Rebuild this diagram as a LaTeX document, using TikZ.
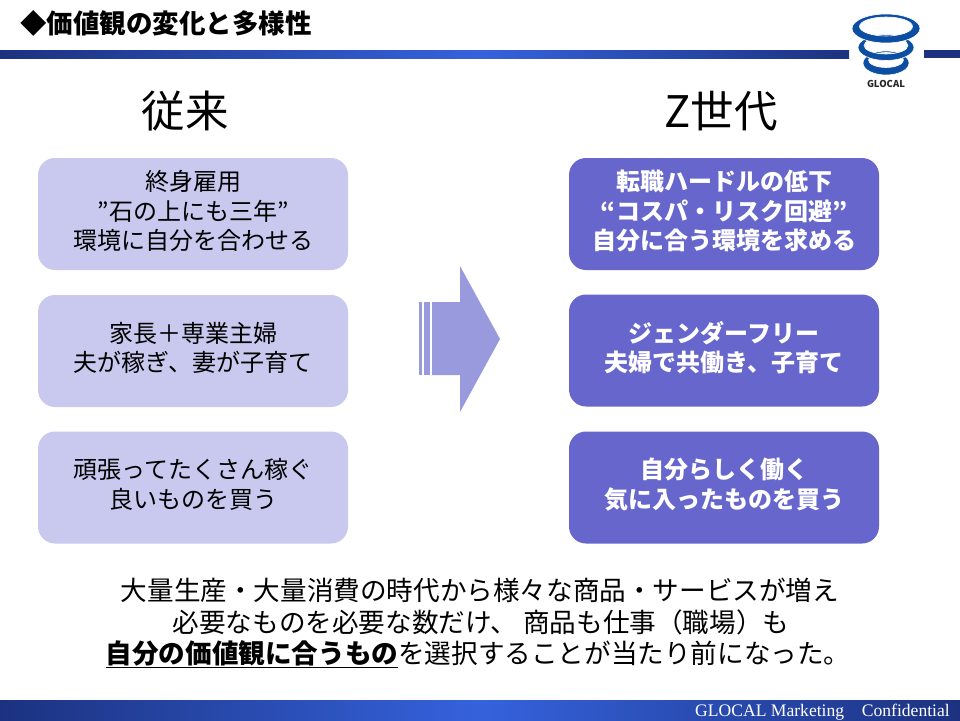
\documentclass[tikz,border=0pt]{standalone}
\usepackage{fontspec}
\setmainfont{Noto Sans CJK JP}
\newfontfamily\footfont{Liberation Serif}
\usetikzlibrary{positioning,calc}
\definecolor{bandDark}{HTML}{1C3280}
\definecolor{bandLight}{HTML}{3562DC}
\definecolor{boxOld}{HTML}{C9C9F0}
\definecolor{boxNew}{HTML}{6666CC}
\definecolor{arrowFill}{HTML}{9999DD}
\definecolor{logoBlue}{HTML}{0B4EA2}
\tikzset{
    oldbox/.style={
        fill=boxOld,
        rounded corners=17pt,
        minimum width=310pt,
        minimum height=112pt,
        inner sep=0pt
    },
    newbox/.style={
        oldbox,
        fill=boxNew
    },
    oldtext/.style={
        inner sep=0pt,
        yshift=3pt,
        align=center,
        font=\fontsize{24}{29.5}\selectfont,
        text=black
    },
    newtext/.style={
        oldtext,
        font=\fontsize{24}{29.5}\bfseries\selectfont,
        text=white
    },
    heading/.style={
        inner sep=0pt,
        font=\fontsize{43.5}{50}\selectfont
    },
    closing/.style={
        inner sep=0pt,
        font=\fontsize{26.6}{31}\selectfont
    },
    logoring/.style={
        fill=logoBlue,
        even odd rule,
        draw=white,
        line width=0.6pt
    }
}

\begin{document}
\begin{tikzpicture}[x=1pt, y=-1pt]
    \useasboundingbox (0,0) rectangle (960,720);
    \fill[white] (0,0) rectangle (960,720);

    % Bands
    \fill[left color=bandDark, right color=bandLight] (0,50) rectangle (480,58);
    \fill[left color=bandLight, right color=bandDark] (480,50) rectangle (849,58);
    \fill[bandDark] (924,50) rectangle (960,58);
    \fill[left color=bandDark, right color=bandLight] (0,700) rectangle (480,720);
    \fill[left color=bandLight, right color=bandDark] (480,700) rectangle (960,720);

    % Title
    \node[anchor=west, inner sep=0pt, font=\fontsize{26.5}{30}\bfseries\selectfont] (title) at (20,23) {◆価値観の変化と多様性};
    \node[anchor=east, inner sep=0pt, text=white, font=\footfont\fontsize{17.6}{20}\selectfont] (foot) at (950,712) {GLOCAL Marketing\hspace{1em}Confidential};

    % Logo
    \path[logoring] (886,63) ellipse (23pt and 12pt) (886,60) ellipse (17.5pt and 7.5pt);
    \path[logoring] (886,47.5) ellipse (28pt and 13pt) (886,45.5) ellipse (22pt and 8.5pt);
    \path[logoring] (886,28.5) ellipse (34pt and 14.5pt) (886,26.5) ellipse (26.5pt and 9.5pt);
    \node[inner sep=0pt, text=black!85, font=\fontsize{9.5}{11}\bfseries\selectfont] (logotext) at (886,83.5) {GLOCAL};

    % Headings
    \node[heading] (oldhead) at (185,111) {従来};
    \node[heading] (newhead) at (721,111) {Z世代};

    % Boxes - left
    \node[oldbox] (old1) at (193,214) {};
    \node[oldbox] (old2) at (193,351) {};
    \node[oldbox] (old3) at (193,487.5) {};
    \node[oldtext] (old1text) at (old1) {終身雇用\\"石の上にも三年”\\環境に自分を合わせる};
    \node[oldtext] (old2text) at (old2) {家長＋専業主婦\\夫が稼ぎ、妻が子育て};
    \node[oldtext] (old3text) at (old3) {頑張ってたくさん稼ぐ\\良いものを買う};

    % Boxes - right
    \node[newbox] (new1) at (724,214) {};
    \node[newbox] (new2) at (724,350.5) {};
    \node[newbox] (new3) at (724,487.5) {};
    \node[newtext] (new1text) at (new1) {転職ハードルの低下\\“コスパ・リスク回避”\\自分に合う環境を求める};
    \node[newtext] (new2text) at (new2) {ジェンダーフリー\\夫婦で共働き、子育て};
    \node[newtext] (new3text) at (new3) {自分らしく働く\\気に入ったものを買う};

    % Arrow
    \fill[arrowFill] (432,302) -- (460,302) -- (460,266) -- (500,339) -- (460,412) -- (460,375) -- (432,375) -- cycle;
    \fill[arrowFill] (424,302) rectangle (429.5,375);
    \fill[arrowFill] (419,302) rectangle (422,375);

    % Closing text
    \node[closing] (line1) at (480,590) {大量生産・大量消費の時代から様々な商品・サービスが増え};
    \node[closing] (line2) at (481,622) {必要なものを必要な数だけ、 商品も仕事（職場）も};
    \node[closing] (line3) at (478,654) {\underline{\textbf{自分の価値観に合うもの}}を選択することが当たり前になった。};
\end{tikzpicture}
\end{document}
